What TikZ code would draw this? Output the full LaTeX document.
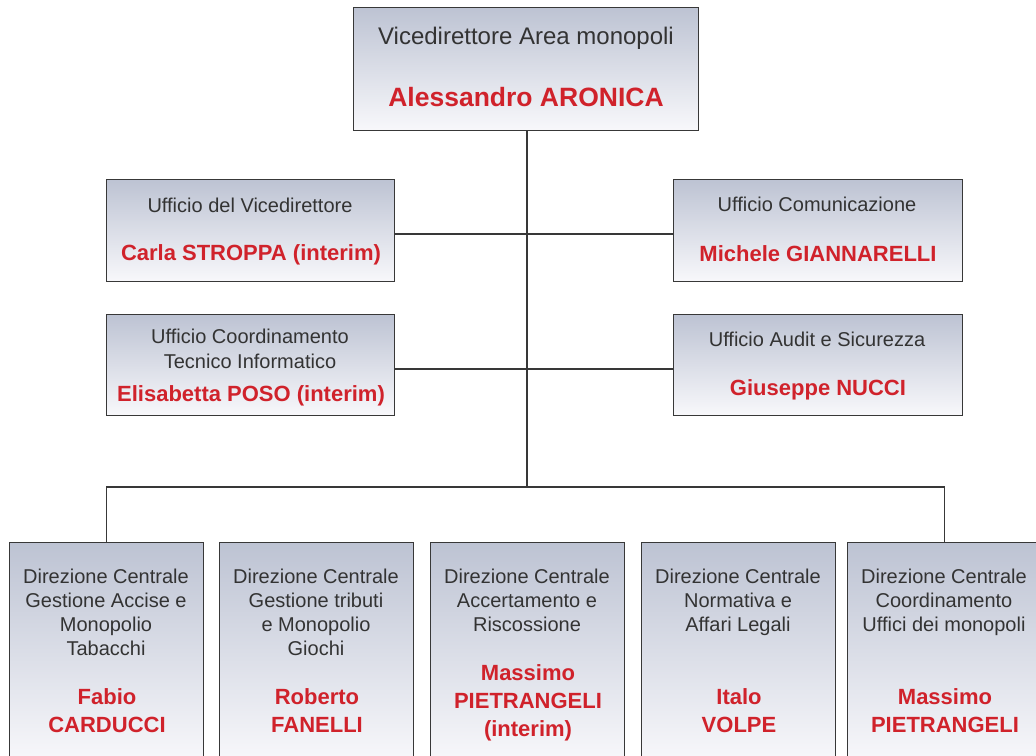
\documentclass[tikz,border=0pt]{standalone}
\usepackage{fontspec}
\setmainfont{Liberation Sans}
\usetikzlibrary{positioning}

\definecolor{boxtop}{HTML}{BDC3D3}
\definecolor{boxbot}{HTML}{F8F8FB}
\definecolor{frame}{HTML}{383838}
\definecolor{txt}{HTML}{333333}
\definecolor{rosso}{HTML}{D0222B}

\tikzset{
  uff/.style={draw=frame, line width=1.1pt, top color=boxtop, bottom color=boxbot,
    anchor=north west, inner sep=0pt},
  lbl/.style={text=txt, font=\fontsize{20}{24}\selectfont, align=center, inner sep=0pt},
  who/.style={text=rosso, font=\fontsize{22}{28}\selectfont\bfseries, align=center, inner sep=0pt},
  link/.style={draw=frame, line width=1.1pt}
}

\begin{document}
\begin{tikzpicture}[x=1pt, y=-1pt]
\clip (0,0) rectangle (1036,755);

% vertice
\node[uff, minimum width=345pt, minimum height=123pt] (vda) at (353,7) {};
\node[lbl, font=\fontsize{24}{28}\selectfont] (vdaT) at (526,38) {Vicedirettore Area monopoli};
\node[who, font=\fontsize{26.5}{30}\selectfont\bfseries] (vdaN) at (526,97) {Alessandro ARONICA};

% uffici di staff
\node[uff, minimum width=288pt, minimum height=102pt] (ufv) at (106,179) {};
\node[lbl] (ufvT) at (250,205) {Ufficio del Vicedirettore};
\node[who] (ufvN) at (251,255) {Carla STROPPA (interim)};

\node[uff, minimum width=289pt, minimum height=102pt] (uco) at (673,179) {};
\node[lbl] (ucoT) at (817,204) {Ufficio Comunicazione};
\node[who] (ucoN) at (818,254) {Michele GIANNARELLI};

\node[uff, minimum width=288pt, minimum height=101pt] (uct) at (106,314) {};
\node[lbl, font=\fontsize{20}{25}\selectfont] (uctT) at (250,348.5) {Ufficio Coordinamento\\Tecnico Informatico};
\node[who] (uctN) at (251,396) {Elisabetta POSO (interim)};

\node[uff, minimum width=289pt, minimum height=101pt] (uas) at (673,314) {};
\node[lbl] (uasT) at (817,339) {Ufficio Audit e Sicurezza};
\node[who] (uasN) at (818,390) {Giuseppe NUCCI};

% direzioni centrali
\node[uff, minimum width=194pt, minimum height=220pt] (dc1) at (9,542) {};
\node[lbl] (dc1T) at (106,612) {Direzione Centrale\\Gestione Accise e\\Monopolio\\Tabacchi};
\node[who] (dc1N) at (107,711) {Fabio\\CARDUCCI};

\node[uff, minimum width=194pt, minimum height=220pt] (dc2) at (219,542) {};
\node[lbl] (dc2T) at (316,612) {Direzione Centrale\\Gestione tributi\\e Monopolio\\Giochi};
\node[who] (dc2N) at (317,711) {Roberto\\FANELLI};

\node[uff, minimum width=194pt, minimum height=220pt] (dc3) at (430,542) {};
\node[lbl] (dc3T) at (527,600) {Direzione Centrale\\Accertamento e\\Riscossione};
\node[who] (dc3N) at (528,703) {Massimo\\PIETRANGELI\\(interim)};

\node[uff, minimum width=194pt, minimum height=220pt] (dc4) at (641,542) {};
\node[lbl] (dc4T) at (738,602) {Direzione Centrale\\Normativa e\\Affari Legali};
\node[who] (dc4N) at (739,711) {Italo\\VOLPE};

\node[uff, minimum width=194pt, minimum height=220pt] (dc5) at (847,542) {};
\node[lbl] (dc5T) at (944,602) {Direzione Centrale\\Coordinamento\\Uffici dei monopoli};
\node[who] (dc5N) at (945,711) {Massimo\\PIETRANGELI};

% collegamenti
\coordinate (hub) at (527,487);
\coordinate (r1) at (527,234);
\coordinate (r2) at (527,369);
\draw[link] (vda.south -| hub) -- (hub);
\draw[link] (ufv.east |- r1) -- (uco.west |- r1);
\draw[link] (uct.east |- r2) -- (uas.west |- r2);
\draw[link] (dc1.north) |- (hub) -| (dc5.north);
\end{tikzpicture}
\end{document}
